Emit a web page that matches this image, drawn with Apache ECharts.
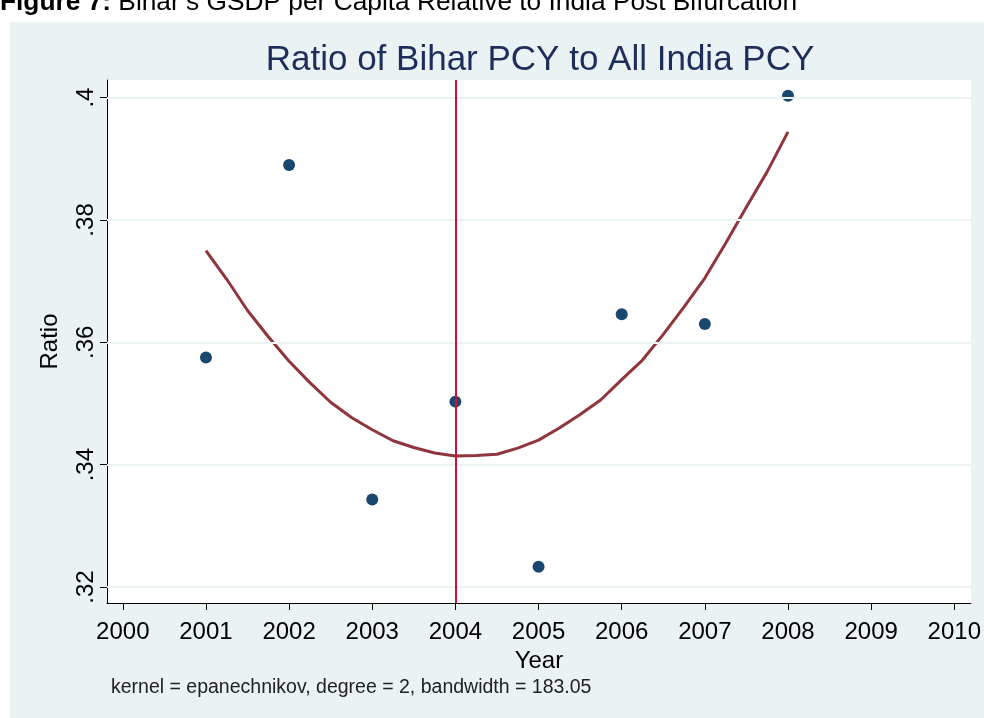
<!DOCTYPE html>
<html>
<head>
<meta charset="UTF-8">
<title>Ratio of Bihar PCY to All India PCY</title>
<script src="https://cdn.jsdelivr.net/npm/echarts@6/dist/echarts.min.js"></script>
<style>
  html, body { margin: 0; padding: 0; background: #fff; }
  #chart { width: 984px; height: 718px; }
</style>
</head>
<body>
<div id="chart"></div>
<script>
// observed ratios
var years = [2001, 2002, 2003, 2004, 2005, 2006, 2007, 2008];
var ratio = [0.3575, 0.3890, 0.3343, 0.3503, 0.3233, 0.3646, 0.3630, 0.4003];

// local polynomial fit
var fitYears = [2001, 2001.25, 2001.5, 2001.75, 2002, 2002.25, 2002.5, 2002.75,
                2003, 2003.25, 2003.5, 2003.75, 2004, 2004.25, 2004.5, 2004.75,
                2005, 2005.25, 2005.5, 2005.75, 2006, 2006.25, 2006.5, 2006.75,
                2007, 2007.25, 2007.5, 2007.75, 2008];
var fitValues = [0.3750, 0.3703, 0.3652, 0.3609, 0.3569, 0.3534, 0.3502, 0.3477,
                 0.3457, 0.3439, 0.3428, 0.3419, 0.3414, 0.3415, 0.3417, 0.3427,
                 0.3440, 0.3460, 0.3482, 0.3506, 0.3539, 0.3571, 0.3613, 0.3658,
                 0.3705, 0.3762, 0.3821, 0.3879, 0.3944];

var xTicks = [2000, 2001, 2002, 2003, 2004, 2005, 2006, 2007, 2008, 2009, 2010];
var yTicks = [0.32, 0.34, 0.36, 0.38, 0.40];
var bifurcationYear = 2004;

var font = "'Liberation Sans', Arial, sans-serif";

var chart = echarts.init(document.getElementById('chart'));

function pairs(xs, ys) {
    var out = [];
    for (var i = 0; i < xs.length; i++) out.push([xs[i], ys[i]]);
    return out;
}

var option = {
    animation: false,
    backgroundColor: '#fff',
    textStyle: { fontFamily: font },
    graphic: [
        {   // outer graph region
            type: 'rect', z: -10, silent: true,
            shape: { x: 10, y: 22, width: 974, height: 696 },
            style: { fill: '#eaf2f3' }
        },
        {
            type: 'text', left: 0, top: -10, silent: true,
            style: {
                text: '{b|Figure 7:} Bihar\u2019s GSDP per Capita Relative to India Post Bifurcation',
                fontFamily: font, fontSize: 26.3, fill: '#000',
                rich: { b: { fontWeight: 'bold', fontSize: 26.3, fontFamily: font } }
            }
        },
        {
            type: 'text', left: 111, top: 678, silent: true,
            style: {
                text: 'kernel = epanechnikov, degree = 2, bandwidth = 183.05',
                fontFamily: font, fontSize: 19.5, fill: '#222'
            }
        }
    ],
    title: {
        text: 'Ratio of Bihar PCY to All India PCY',
        left: 535, textAlign: 'center', top: 38,
        textStyle: { fontFamily: font, fontSize: 35, fontWeight: 'normal', color: '#1e2d5c' }
    },
    grid: {
        left: 107, right: 12, top: 80, bottom: 115,
        show: true, backgroundColor: '#fff', borderWidth: 0
    },
    xAxis: {
        type: 'value', min: 1999.81, max: 2010.2,
        name: 'Year', nameLocation: 'middle', nameGap: 36,
        nameTextStyle: { fontFamily: font, fontSize: 24, color: '#000' },
        axisLine: { show: true, onZero: false, lineStyle: { color: '#000', width: 1 } },
        axisTick: { show: true, length: 7, customValues: xTicks, lineStyle: { color: '#000' } },
        axisLabel: {
            customValues: xTicks, margin: 17, fontFamily: font, fontSize: 24, color: '#000',
            formatter: function (v) { return String(v); }
        },
        splitLine: { show: false }
    },
    yAxis: {
        type: 'value', min: 0.31738, max: 0.40288,
        name: 'Ratio', nameLocation: 'middle', nameGap: 45,
        nameTextStyle: { fontFamily: font, fontSize: 24, color: '#000' },
        axisLine: { show: true, onZero: false, lineStyle: { color: '#000', width: 1 } },
        axisTick: { show: true, length: 7, customValues: yTicks, lineStyle: { color: '#000' } },
        axisLabel: {
            customValues: yTicks, rotate: 90, margin: 9,
            fontFamily: font, fontSize: 24, color: '#000',
            formatter: function (v) { return String(+v.toFixed(2)).replace(/^0/, ''); }
        },
        splitLine: { show: false }
    },
    series: [
        {   // horizontal grid lines
            type: 'line', data: [], z: 1, silent: true,
            markLine: {
                silent: true, symbol: 'none', label: { show: false },
                lineStyle: { color: '#eaf2f3', width: 2, type: 'solid' },
                data: yTicks.map(function (t) { return { yAxis: t }; })
            }
        },
        {
            type: 'line', name: 'lpoly', z: 2,
            data: pairs(fitYears, fitValues),
            showSymbol: false, smooth: false,
            lineStyle: { color: '#90353b', width: 3 }
        },
        {   // bifurcation line
            type: 'line', data: [], z: 3, silent: true,
            markLine: {
                silent: true, symbol: 'none', label: { show: false },
                lineStyle: { color: '#d0103a', width: 2, type: 'solid' },
                data: [{ xAxis: bifurcationYear }]
            }
        },
        {
            type: 'scatter', name: 'Ratio', z: 4,
            data: pairs(years, ratio),
            symbolSize: 12,
            itemStyle: { color: '#1a476f', opacity: 1 }
        }
    ]
};

chart.setOption(option);
</script>
</body>
</html>
